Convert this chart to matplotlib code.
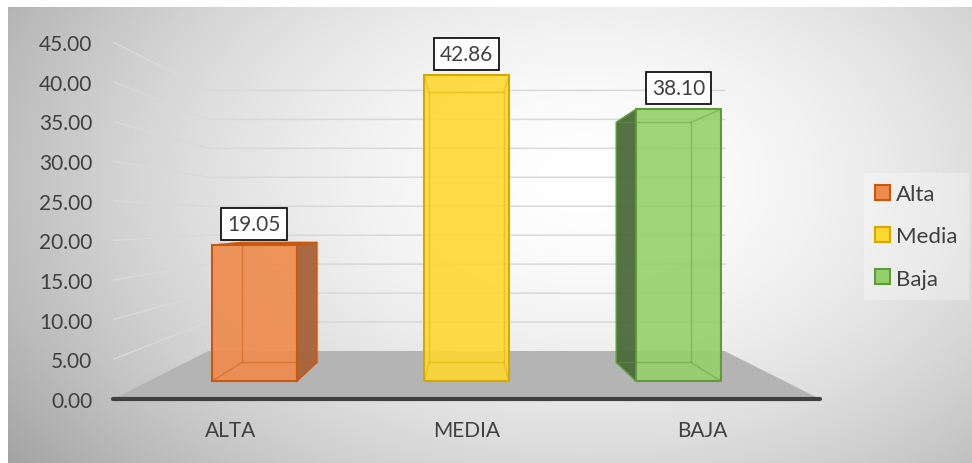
import numpy as np
import matplotlib
matplotlib.use("Agg")
import matplotlib.pyplot as plt
from matplotlib.patches import Polygon, Patch

plt.rcParams['font.family'] = ['Lato', 'DejaVu Sans']

# data
categories = ['ALTA', 'MEDIA', 'BAJA']
series = ['Alta', 'Media', 'Baja']
values = [19.05, 42.86, 38.10]
yticks = [0, 5, 10, 15, 20, 25, 30, 35, 40, 45]

front_cols = ['#EE8A4C', '#FDD830', '#95D06A']
side_cols = ['#A6623A', '#C9A11E', '#4B6B3A']
edge_cols = ['#C8590F', '#D6A800', '#5F9B3B']

# simple perspective: vanishing point at centre of the front plane
VX, VY = 1.0, 22.4
K = 0.37          # back wall shrink -> 1/(1+K) ~ 0.73


def proj(x, v, z):
    s = 1.0 / (1.0 + K * z)
    return VX + (x - VX) * s, VY + (v - VY) * s


def face(pts):
    return [proj(*p) for p in pts]


def line(pts, **kw):
    pp = face(pts)
    ax.plot([p[0] for p in pp], [p[1] for p in pp], **kw)


fig = plt.figure(figsize=(9.72, 4.64), dpi=100)
fig.patch.set_facecolor('white')

# chart area background, radial grey gradient
bg = fig.add_axes([8 / 972, 0, 1 - 8 / 972, 1 - 8 / 464])
gx, gy = np.meshgrid(np.linspace(0, 1, 400), np.linspace(0, 1, 200))
r = np.sqrt(((gx - 0.6) / 0.6) ** 2 + ((gy - 0.38) / 0.85) ** 2)
g = 1.0 - 0.25 * np.clip(r, 0, 1.3) ** 1.7
bg.imshow(np.dstack([g, g, g]), aspect='auto', extent=[0, 1, 0, 1],
          origin='upper', interpolation='bilinear')
bg.axis('off')
bg.set_zorder(0)

ax = fig.add_axes([113 / 972, 1 - 400 / 464, 707 / 972, 357 / 464])
ax.set_zorder(1)
ax.patch.set_alpha(0)
ax.set_xlim(-0.5, 2.5)
ax.set_ylim(0, 45)
for sp in ax.spines.values():
    sp.set_visible(False)

x0, x1 = -0.5, len(categories) - 0.5

# floor
ax.add_patch(Polygon(face([(x0, 0, 0), (x1, 0, 0), (x1, 0, 1), (x0, 0, 1)]),
                     closed=True, fc='#B4B4B4', ec='none', zorder=1))

# gridlines on left wall and back wall
for t in yticks[1:]:
    line([(x0, t, 0), (x0, t, 1), (x1, t, 1)], color='#D9D9D9',
         lw=1.1, zorder=1, solid_joinstyle='miter')

# front axis line
ax.plot([x0, x1], [0, 0], color='#404040', lw=3, zorder=6,
        solid_capstyle='round', clip_on=False)

# bars
hw = 0.2
zf, zb = 0.3, 0.7
for i, v in enumerate(values):
    a, b = i - hw, i + hw
    fc, sc, ec = front_cols[i], side_cols[i], edge_cols[i]
    if a > VX:
        side = face([(a, 0, zf), (a, 0, zb), (a, v, zb), (a, v, zf)])
        ax.add_patch(Polygon(side, closed=True, fc=sc, ec=ec, lw=1, alpha=0.95, zorder=3))
    if b < VX:
        side = face([(b, 0, zf), (b, 0, zb), (b, v, zb), (b, v, zf)])
        ax.add_patch(Polygon(side, closed=True, fc=sc, ec=ec, lw=1, alpha=0.95, zorder=3))
    if v < VY:
        top = face([(a, v, zf), (b, v, zf), (b, v, zb), (a, v, zb)])
        ax.add_patch(Polygon(top, closed=True, fc=sc, ec=ec, lw=1, zorder=3))
    front = face([(a, 0, zf), (b, 0, zf), (b, v, zf), (a, v, zf)])
    ax.add_patch(Polygon(front, closed=True, fc=fc, ec='none', alpha=0.9, zorder=4))
    ax.add_patch(Polygon(front, closed=True, fc='none', ec=ec, lw=1.5, zorder=4))

    # hidden back edges seen through the glassy front
    hk = dict(color=ec, lw=1, alpha=0.45, zorder=5)
    line([(a, 0, zb), (b, 0, zb), (b, v, zb), (a, v, zb), (a, 0, zb)], **hk)
    line([(a, 0, zf), (a, 0, zb)], **hk)
    line([(b, 0, zf), (b, 0, zb)], **hk)
    line([(a, v, zf), (a, v, zb)], **hk)
    line([(b, v, zf), (b, v, zb)], **hk)

    tx, ty = proj(i, v, zf)
    ax.annotate(f"{v:.2f}", xy=(tx, ty), xytext=(0, 8), textcoords='offset points',
                ha='center', va='bottom', fontsize=15, color='#404040', zorder=7,
                bbox=dict(boxstyle='square,pad=0.3', fc='white', ec='black', lw=1.2))

ax.set_yticks(yticks)
ax.set_yticklabels([f"{t:.2f}" for t in yticks], fontsize=15, color='#404040')
ax.set_xticks(range(len(categories)))
ax.set_xticklabels(categories, fontsize=15, color='#404040')
ax.tick_params(axis='y', length=0, pad=15)
ax.tick_params(axis='x', length=0, pad=15)

handles = [Patch(fc=front_cols[i], ec=edge_cols[i], lw=1.5, label=series[i])
           for i in range(len(series))]
leg = fig.legend(handles=handles, loc='upper left', bbox_to_anchor=(853 / 972, 1 - 163 / 464),
                 fontsize=16, frameon=True, fancybox=False, handlelength=0.65,
                 handleheight=0.65, handletextpad=0.3, labelspacing=1.0,
                 borderpad=0.5)
leg.get_frame().set_facecolor('white')
leg.get_frame().set_alpha(0.3)
leg.get_frame().set_edgecolor('none')
for t in leg.get_texts():
    t.set_color('#404040')

fig.savefig('out.png', dpi=100)
